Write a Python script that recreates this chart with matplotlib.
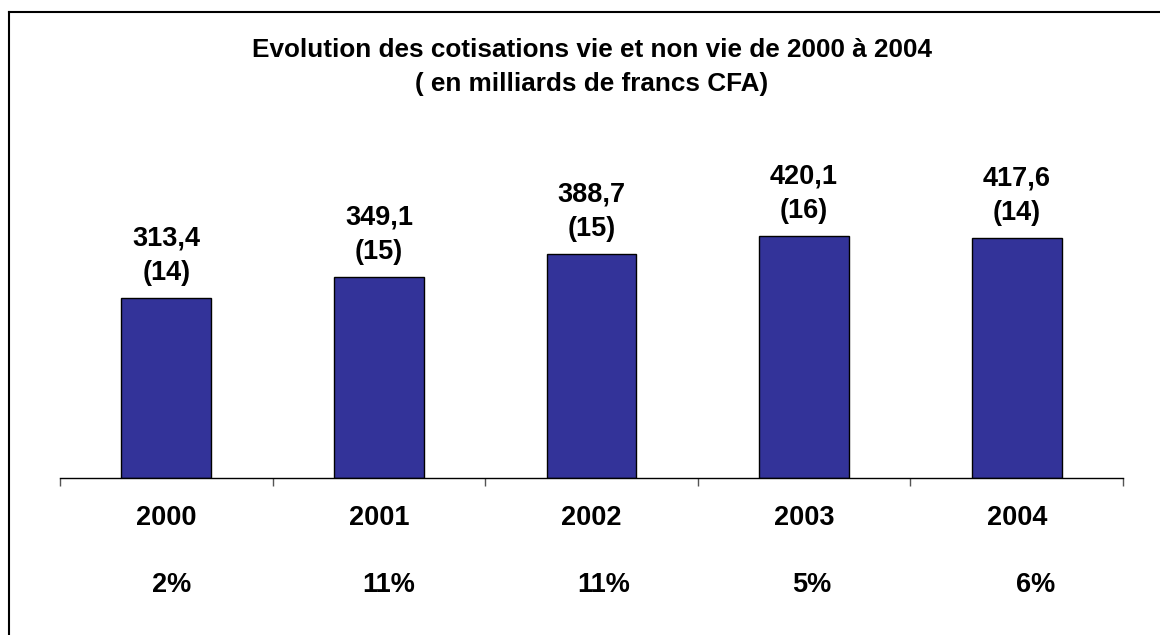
import matplotlib.pyplot as plt
import matplotlib.transforms as mtransforms
from matplotlib.lines import Line2D

years = ['2000', '2001', '2002', '2003', '2004']
cotisations = [313.4, 349.1, 388.7, 420.1, 417.6]
parts = ['(14)', '(15)', '(15)', '(16)', '(14)']
croissance = ['2%', '11%', '11%', '5%', '6%']
pct_shift = [0.025, 0.047, 0.055, 0.035, 0.09]

plt.rcParams['font.family'] = ['Liberation Sans', 'DejaVu Sans']
plt.rcParams['font.weight'] = 'bold'

fig = plt.figure(figsize=(11.6, 6.35), dpi=100)
ax = fig.add_axes([60 / 1160, 1 - 478 / 635, 1063 / 1160, 348 / 635])

x = range(len(years))
bars = ax.bar(x, cotisations, width=0.423, color='#333399', edgecolor='black', linewidth=1)

ax.set_xlim(-0.5, 4.5)
ax.set_ylim(0, 605)
for side in ['top', 'right', 'left']:
    ax.spines[side].set_visible(False)
ax.spines['bottom'].set_linewidth(1)
ax.set_yticks([])
ax.set_xticks([i - 0.5 for i in range(len(years) + 1)])
ax.set_xticklabels([])
ax.tick_params(axis='x', direction='out', length=6, width=1, color='#555555')

fs = 19.5
for b, val, p in zip(bars, cotisations, parts):
    cx = b.get_x() + b.get_width() / 2
    ax.annotate(f'{val:.1f}'.replace('.', ','), (cx, val), xytext=(0, 43),
                textcoords='offset points', ha='center', va='center',
                fontsize=fs, fontweight='bold')
    ax.annotate(p, (cx, val), xytext=(0, 18), textcoords='offset points',
                ha='center', va='center', fontsize=fs, fontweight='bold')

trans = mtransforms.blended_transform_factory(ax.transData, fig.transFigure)
for i, (yr, pc) in enumerate(zip(years, croissance)):
    fig.text(i, 1 - 518 / 635, yr, transform=trans, ha='center', va='center',
             fontsize=fs, fontweight='bold')
    fig.text(i + pct_shift[i], 1 - 585 / 635, pc, transform=trans, ha='center',
             va='center', fontsize=fs, fontweight='bold')

fig.text(0.51, 1 - 50 / 635, 'Evolution des cotisations vie et non vie de 2000 à 2004',
         ha='center', va='center', fontsize=18.8, fontweight='bold')
fig.text(0.51, 1 - 84 / 635, '( en milliards de francs CFA)',
         ha='center', va='center', fontsize=18.8, fontweight='bold')

# cadre
fig.add_artist(Line2D([9 / 1160, 9 / 1160], [0, 1 - 12 / 635], color='black', linewidth=1.5))
fig.add_artist(Line2D([9 / 1160, 1], [1 - 12 / 635, 1 - 12 / 635], color='black', linewidth=1.5))

fig.savefig('out.png', dpi=100)
